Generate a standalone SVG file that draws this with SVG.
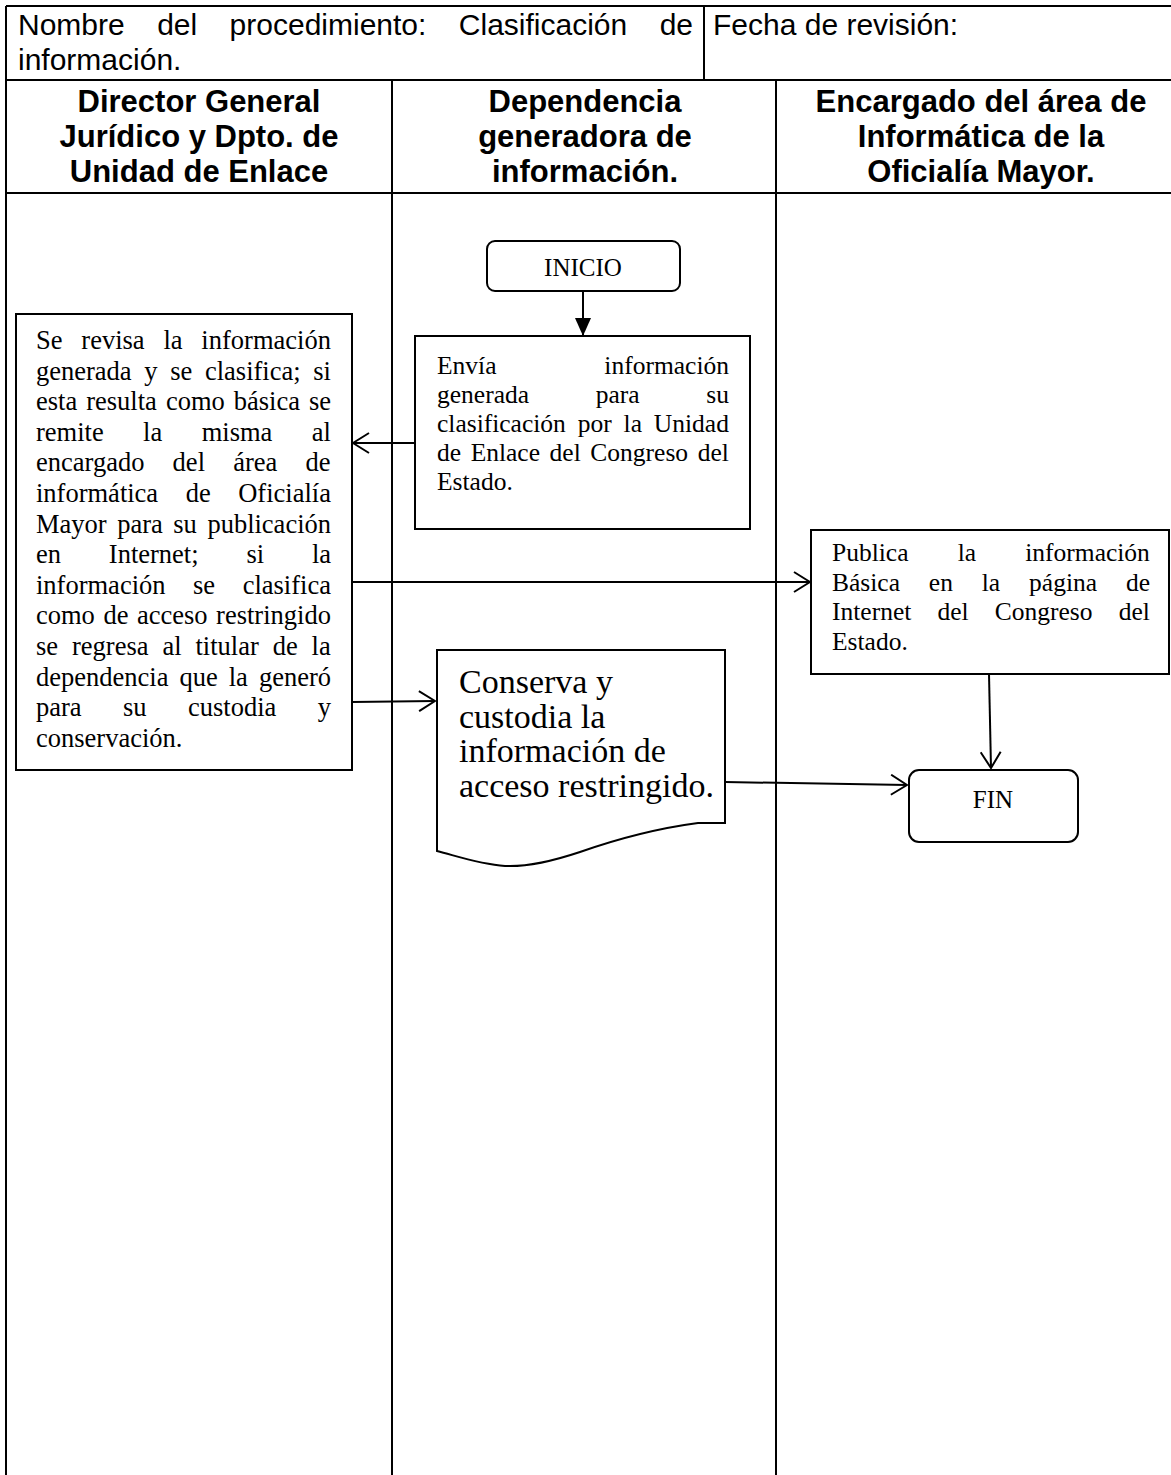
<svg xmlns="http://www.w3.org/2000/svg" width="1171" height="1475" viewBox="0 0 1171 1475">
<style>
.grid{stroke:#000;stroke-width:2;fill:none}
.box{fill:#fff;stroke:#000;stroke-width:2}
.hd{font-family:"Liberation Sans",Arial,sans-serif;font-size:30px;fill:#000}
.hb{font-family:"Liberation Sans",Arial,sans-serif;font-size:31px;font-weight:bold;fill:#000;text-anchor:middle}
.t{font-family:"Liberation Serif","Times New Roman",serif;fill:#000}
.conn{stroke:#000;stroke-width:2;fill:none}
</style>
<defs>
<marker id="open" viewBox="0 0 20 22" refX="19" refY="11" markerWidth="20" markerHeight="22" markerUnits="userSpaceOnUse" orient="auto">
<path d="M3,1 L19,11 L3,21" fill="none" stroke="#000" stroke-width="2"/>
</marker>
<marker id="filled" viewBox="0 0 18 16" refX="18" refY="8" markerWidth="18" markerHeight="16" markerUnits="userSpaceOnUse" orient="auto">
<path d="M0,0 L18,8 L0,16 Z" fill="#000"/>
</marker>
</defs>
<rect width="1171" height="1475" fill="#fff"/>
<g id="table" class="grid">
<path d="M6,6 H1171 M6,6 V1475 M704,6 V80 M6,80 H1171 M6,193 H1171 M392,80 V1475 M776,80 V1475"/>
</g>
<g id="header">
<text class="hd" x="18" y="35" word-spacing="24.1">Nombre del procedimiento: Clasificación de</text>
<text class="hd" x="18" y="70">información.</text>
<text class="hd" x="713" y="35">Fecha de revisión:</text>
<text class="hb" x="199" y="112">Director General</text>
<text class="hb" x="199" y="147">Jurídico y Dpto. de</text>
<text class="hb" x="199" y="182">Unidad de Enlace</text>
<text class="hb" x="585" y="112">Dependencia</text>
<text class="hb" x="585" y="147">generadora de</text>
<text class="hb" x="585" y="182">información.</text>
<text class="hb" x="981" y="112">Encargado del área de</text>
<text class="hb" x="981" y="147">Informática de la</text>
<text class="hb" x="981" y="182">Oficialía Mayor.</text>
</g>
<g id="connectors">
<path class="conn" d="M583,291 L583,336" marker-end="url(#filled)"/>
<path class="conn" d="M415,443 L353,443" marker-end="url(#open)"/>
<path class="conn" d="M352,582 L810,582" marker-end="url(#open)"/>
<path class="conn" d="M352,702 L435,701" marker-end="url(#open)"/>
<path class="conn" d="M989,674 L991,768" marker-end="url(#open)"/>
<path class="conn" d="M725,782 L907,785" marker-end="url(#open)"/>
</g>
<g id="inicio">
<rect class="box" x="487" y="241" width="193" height="50" rx="8"/>
<text class="t" x="583" y="276" font-size="25" text-anchor="middle">INICIO</text>
</g>
<g id="envia">
<rect class="box" x="415" y="336" width="335" height="193"/>
<g class="t" font-size="25.5">
<text x="437" y="374" word-spacing="101.5">Envía información</text>
<text x="437" y="403" word-spacing="60.3">generada para su</text>
<text x="437" y="432" word-spacing="5.5">clasificación por la Unidad</text>
<text x="437" y="461" word-spacing="3.2">de Enlace del Congreso del</text>
<text x="437" y="490">Estado.</text>
</g>
</g>
<g id="revisa">
<rect class="box" x="16" y="314" width="336" height="456"/>
<g class="t" font-size="26.5">
<text x="36" y="349" word-spacing="12.2">Se revisa la información</text>
<text x="36" y="379.6" word-spacing="6.05">generada y se clasifica; si</text>
<text x="36" y="410.2" word-spacing="2.4">esta resulta como básica se</text>
<text x="36" y="440.8" word-spacing="32.8">remite la misma al</text>
<text x="36" y="471.4" word-spacing="21.6">encargado del área de</text>
<text x="36" y="502" word-spacing="20.9">informática de Oficialía</text>
<text x="36" y="532.6" word-spacing="3.9">Mayor para su publicación</text>
<text x="36" y="563.2" word-spacing="41.2">en Internet; si la</text>
<text x="36" y="593.8" word-spacing="20.9">información se clasifica</text>
<text x="36" y="624.4" word-spacing="1.9">como de acceso restringido</text>
<text x="36" y="655" word-spacing="7.3">se regresa al titular de la</text>
<text x="36" y="685.6" word-spacing="4.4">dependencia que la generó</text>
<text x="36" y="716.2" word-spacing="34.8">para su custodia y</text>
<text x="36" y="746.8">conservación.</text>
</g>
</g>
<g id="publica">
<rect class="box" x="811" y="530" width="358" height="144"/>
<g class="t" font-size="25.5">
<text x="832" y="561" word-spacing="42.8">Publica la información</text>
<text x="832" y="590.5" word-spacing="22.5">Básica en la página de</text>
<text x="832" y="620" word-spacing="19.8">Internet del Congreso del</text>
<text x="832" y="649.5">Estado.</text>
</g>
</g>
<g id="conserva">
<path class="box" d="M437,650 H725 V823 H698 C660,828 620,838 580,852 C550,862 525,867 505,866 C480,864 460,857 437,851 Z"/>
<g class="t" font-size="34">
<text x="459" y="693">Conserva y</text>
<text x="459" y="728">custodia la</text>
<text x="459" y="762">información de</text>
<text x="459" y="797">acceso restringido.</text>
</g>
</g>
<g id="fin">
<rect class="box" x="909" y="770" width="169" height="72" rx="10"/>
<text class="t" x="993" y="808" font-size="25" text-anchor="middle">FIN</text>
</g>
</svg>
